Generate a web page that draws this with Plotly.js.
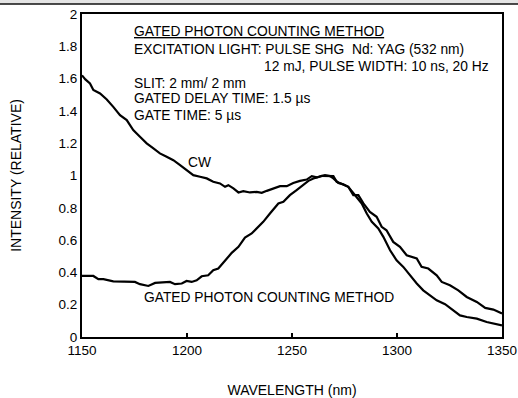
<!DOCTYPE html>
<html>
<head>
<meta charset="utf-8">
<script src="https://cdn.plot.ly/plotly-3.0.1.min.js"></script>
<style>html,body{margin:0;padding:0;background:#fff;}#chart{width:518px;height:398px;}</style>
</head>
<body>
<div id="chart"></div>
<script>
// CW spectrum
const cwWavelength = [1150,1151.6,1153.8,1155.4,1158.6,1161.8,1164.9,1168.1,1171.3,1174.4,1177.6,1180.8,1184,1187.1,1190.3,1193.5,1196.7,1199.8,1203,1206.2,1209.4,1212.5,1215.7,1218.1,1219.7,1222.1,1224.5,1226.8,1230,1233.2,1235.6,1238,1241.1,1244.3,1247.5,1250.6,1253.8,1257,1259.4,1261.8,1264.1,1266.5,1269.7,1271.3,1273.7,1276.8,1279.2,1281.6,1284,1287.1,1290.3,1292.7,1295,1298.2,1301.4,1304.6,1309.4,1311.7,1314.9,1318.9,1321.3,1325.2,1329.2,1333.2,1338,1342,1345.9,1350];
const cwIntensity = [1.62,1.595,1.57,1.53,1.508,1.471,1.425,1.374,1.343,1.281,1.24,1.199,1.168,1.137,1.116,1.095,1.064,1.033,1.002,0.992,0.982,0.961,0.951,0.93,0.94,0.92,0.895,0.903,0.895,0.899,0.893,0.905,0.92,0.934,0.934,0.954,0.967,0.975,0.996,0.988,0.998,0.996,0.996,0.961,0.946,0.93,0.878,0.878,0.827,0.775,0.744,0.682,0.661,0.589,0.558,0.506,0.486,0.434,0.424,0.382,0.341,0.32,0.289,0.248,0.217,0.18,0.17,0.145];
// Gated photon counting spectrum
const gatedWavelength = [1150,1155.4,1157.8,1160.2,1164.9,1169.7,1175.2,1177.6,1181.6,1184.8,1188.7,1191.9,1194.3,1197.5,1199.8,1202.2,1204.6,1207,1210.1,1212.5,1214.9,1218.1,1221.3,1224.5,1227.6,1230.8,1234,1236.3,1239.5,1243.5,1245.9,1249,1252.2,1255.4,1257.8,1260.2,1263.3,1265.7,1268.1,1269.7,1272.1,1274.4,1276.8,1279.2,1281.6,1283.2,1285.6,1288,1291.1,1293.5,1296.7,1299.8,1303,1306.2,1309.4,1312.5,1315.7,1318.9,1322.9,1326.8,1330,1333.2,1338,1342.7,1350];
const gatedIntensity = [0.378,0.378,0.358,0.358,0.345,0.345,0.341,0.327,0.316,0.335,0.337,0.341,0.327,0.331,0.347,0.341,0.351,0.376,0.382,0.413,0.424,0.475,0.521,0.558,0.616,0.641,0.682,0.713,0.765,0.827,0.837,0.878,0.909,0.94,0.967,0.982,0.996,1.002,0.996,0.982,0.954,0.946,0.93,0.889,0.847,0.827,0.765,0.713,0.672,0.62,0.537,0.475,0.434,0.382,0.331,0.289,0.258,0.227,0.203,0.165,0.134,0.124,0.114,0.093,0.072];
const xTicks = [1150,1200,1250,1300,1350];
const yTicks = [0,0.2,0.4,0.6,0.8,1,1.2,1.4,1.6,1.8,2];
const yTickLabels = ['0','0.2','0.4','0.6','0.8','1','1.2','1.4','1.6','1.8','2'];
const notes = [
  '<u>GATED PHOTON COUNTING METHOD</u>',
  'EXCITATION LIGHT: PULSE SHG  Nd: YAG (532 nm)',
  'SLIT: 2 mm/ 2 mm',
  'GATED DELAY TIME: 1.5 µs',
  'GATE TIME: 5 µs'
];
const noteLine2 = '12 mJ, PULSE WIDTH: 10 ns, 20 Hz';

const FONT = 'Liberation Sans, Arial, sans-serif';
const lineStyle = {color:'#000', width:2.2};

const data = [
  {x: cwWavelength, y: cwIntensity, mode:'lines', line: lineStyle, hoverinfo:'skip'},
  {x: gatedWavelength, y: gatedIntensity, mode:'lines', line: lineStyle, hoverinfo:'skip'}
];

const PH = 323; // plot height in px for paper conversions
const annFont = {family: FONT, size: 13.8, color:'#000'};
const noteY = [31.7, 50, 83, 99, 115];
const annotations = notes.map((t,i)=>({
  xref:'x', yref:'paper', x:1174, y: 1 - (noteY[i]-14)/PH, text:t,
  showarrow:false, xanchor:'left', yanchor:'middle', font: annFont
}));
annotations.push({xref:'paper', yref:'paper', x:(491-82)/420, y:1-(66.7-14)/PH, text:noteLine2,
  showarrow:false, xanchor:'right', yanchor:'middle', font: annFont});
annotations.push({xref:'x', yref:'y', x:1206, y:1.08, text:'CW', showarrow:false,
  xanchor:'center', yanchor:'middle', font: annFont});
annotations.push({xref:'x', yref:'y', x:1178.5, y:0.245, text:'GATED PHOTON COUNTING METHOD', showarrow:false,
  xanchor:'left', yanchor:'middle', font: annFont});

const layout = {
  width:518, height:398,
  margin:{l:82, r:16, t:14, b:61},
  paper_bgcolor:'#fff', plot_bgcolor:'#fff',
  showlegend:false,
  font:{family:FONT, size:13, color:'#000'},
  xaxis:{range:[1150,1350], tickvals:xTicks, ticktext:xTicks.map(String),
    ticks:'inside', ticklen:4, tickwidth:1.5, tickcolor:'#000',
    showline:true, linecolor:'#000', linewidth:2, mirror:true,
    showgrid:false, zeroline:false, tickfont:{family:FONT,size:13.5},
    title:{text:'WAVELENGTH (nm)', font:{family:FONT,size:14}, standoff:30}},
  yaxis:{range:[0,2], tickvals:yTicks, ticktext:yTickLabels,
    ticks:'inside', ticklen:0, tickcolor:'#000',
    showline:true, linecolor:'#000', linewidth:2, mirror:true,
    showgrid:false, zeroline:false, tickfont:{family:FONT,size:13.5},
    title:{text:'INTENSITY (RELATIVE)', font:{family:FONT,size:14}, standoff:34}},
  annotations: annotations,
  shapes:[
    {type:'rect', xref:'paper', yref:'paper', x0:-82/420, x1:(518-82)/420, y0:1+10/PH, y1:1+14/PH,
      fillcolor:'#e4e4e4', line:{width:0}, layer:'below'},
    {type:'line', xref:'paper', yref:'paper', x0:-82/420, x1:(518-82)/420, y0:1+10/PH, y1:1+10/PH,
      line:{color:'#111', width:1.5}}
  ]
};

Plotly.newPlot('chart', data, layout, {staticPlot:true, displayModeBar:false});
</script>
</body>
</html>
